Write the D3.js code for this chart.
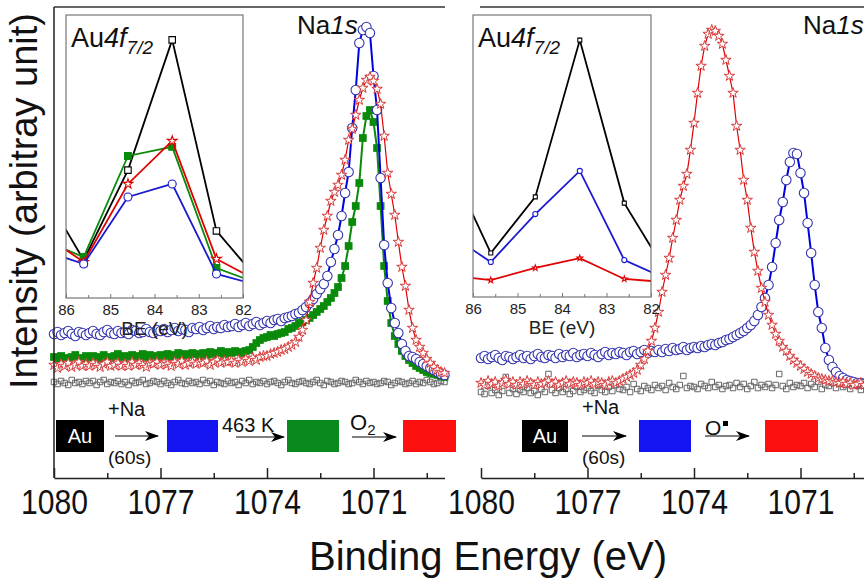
<!DOCTYPE html>
<html>
<head>
<meta charset="utf-8">
<script src="https://cdn.jsdelivr.net/npm/d3@7/dist/d3.min.js"></script>
<style>
body { margin: 0; background: #fff; }
svg { display: block; font-family: "Liberation Sans", Arial, Helvetica, sans-serif; }
</style>
</head>
<body>
<svg class="Na1s" width="864" height="580"></svg>
<script>
// binding energy grid of the Na1s scans (eV), 0.1 eV step from 1080 down to 1069
const energies = d3.range(111).map(i => +(1080 - i * 0.1).toFixed(1));
const energyTicks = [1080, 1077, 1074, 1071];
const energyMinorTicks = [1078.5, 1075.5, 1072.5, 1069.5];

// left panel (Au, +Na 60 s, 463 K, O2) - intensity in arbitrary units
const leftAu = [
    96,94,97,95,93,98,95,96,94,97,
    95,97,93,96,98,94,96,95,97,94,
    96,93,97,95,96,98,94,95,97,96,
    94,97,95,93,96,98,95,94,97,95,
    96,94,98,95,97,93,96,95,94,97,
    95,96,93,97,95,98,94,96,95,97,
    94,96,97,95,93,96,98,95,94,96,
    97,95,94,96,98,95,93,97,96,94,
    95,97,96,94,95,98,96,94,97,95,
    96,94,95,97,96,93,95,97,96,94,
    95,97,94,96,95,98,96,94,95,97,96
];
const leftNa = [
    144,146,143,145,147,144,142,146,145,143,
    145,147,144,143,146,148,145,144,147,145,
    146,144,148,147,145,146,149,146,145,148,
    147,149,146,148,150,147,149,148,146,150,
    149,151,148,150,152,149,151,150,153,151,
    152,154,151,153,155,152,154,156,153,155,
    157,155,158,159,157,160,161,162,164,165,
    168,171,175,179,184,189,194,202,216,229,
    243,262,285,306,350,388,435,448,451,445,
    402,368,300,233,195,170,155,145,134,127,
    122,121,119,116,114,112,110,108,106,104,103
];
const leftAnneal = [
    121,119,122,120,118,121,123,120,119,122,
    120,122,121,119,123,121,120,122,124,121,
    122,120,123,121,122,124,121,123,122,120,
    123,122,124,121,123,125,122,124,123,125,
    124,122,125,123,126,124,125,127,124,126,
    125,127,126,125,127,128,131,135,138,140,
    141,143,142,144,145,146,149,150,152,155,
    156,158,160,163,166,169,172,176,180,185,
    191,200,212,232,256,272,295,340,362,368,
    356,330,272,212,177,155,142,134,127,122,
    118,115,112,110,108,106,105,104,103,102,101
];
const leftO2 = [
    113,110,114,112,115,111,113,116,112,114,
    112,115,113,111,114,116,112,113,115,112,
    114,112,116,113,115,113,111,115,114,116,
    113,115,114,112,116,114,117,113,115,116,
    114,116,115,117,113,116,118,115,117,116,
    117,115,118,116,119,117,120,118,121,122,
    122,124,125,126,128,129,131,133,136,141,
    148,158,176,195,210,230,248,262,277,286,
    293,303,318,338,349,363,378,390,398,401,
    397,389,374,342,305,284,263,236,211,192,
    168,150,138,131,125,119,115,111,108,106,105
];

// right panel (Au, +Na 60 s, O radical)
const rightAu = [
    86,84,92,85,88,83,87,101,85,89,
    84,88,86,90,85,87,83,89,86,104,
    88,85,90,86,89,84,87,91,86,88,
    90,87,85,92,88,86,91,87,93,89,
    88,91,86,94,89,87,92,90,88,93,
    90,92,88,95,91,89,93,102,90,92,
    91,89,94,92,90,96,91,93,89,92,
    93,90,95,91,94,89,92,96,90,93,
    91,94,90,93,104,92,89,95,91,93,
    92,95,90,94,91,96,89,93,92,95,
    90,94,91,93,89,95,92,88,94,91,93
];
const rightNa = [
    120,122,119,121,123,120,118,122,121,119,
    121,123,120,122,119,122,124,121,120,123,
    122,120,124,121,123,122,125,121,123,124,
    122,125,123,121,124,126,123,125,124,126,
    125,123,126,127,124,126,128,125,127,126,
    128,126,129,127,130,128,129,131,128,130,
    131,130,132,131,133,134,133,135,136,138,
    139,141,143,145,147,150,153,157,163,171,
    180,193,211,235,258,276,298,316,325,324,
    305,285,255,225,193,166,150,130,118,111,
    106,102,100,98,97,96,95,95,94,94,94
];
const rightO = [
    95,93,97,94,96,92,95,98,94,96,
    93,96,94,97,95,93,96,94,95,97,
    94,96,93,95,97,94,96,95,93,96,
    95,97,94,96,95,93,96,97,95,97,
    99,101,103,105,108,113,119,127,137,150,
    166,186,203,220,240,258,278,292,304,328,
    355,385,412,432,444,448,447,442,434,418,
    402,385,352,328,298,278,250,226,207,190,
    176,163,153,144,137,131,127,122,118,115,
    112,109,106,104,102,100,99,98,97,97,
    96,95,96,94,95,93,94,95,93,94,93
];

// Au4f7/2 insets (BE in eV, intensity a.u.)
const insetEnergies = [86.6, 85.6, 84.6, 83.6, 82.6, 81.6];
const insetTicks = [86, 85, 84, 83, 82];
const insetMinorTicks = [85.5, 84.5, 83.5, 82.5];
const leftInsetAu = [3.99, 1.34, 4.52, 9.12, 2.37, 0.54];
const leftInsetNa = [1.73, 1.20, 3.57, 4.03, 0.85, 0.43];
const leftInsetAnneal = [2.08, 1.45, 5.02, 5.34, 1.06, 0.48];
const leftInsetO2 = [2.35, 1.27, 4.03, 5.55, 1.38, 0.55];
const rightInsetAu = [4.93, 1.56, 3.55, 9.11, 3.33, 0.73];
const rightInsetNa = [2.31, 1.24, 2.94, 4.47, 1.31, 0.61];
const rightInsetO = [0.78, 0.60, 1.03, 1.38, 0.64, 0.52];

const svg = d3.select('.Na1s');
const axisY = 478;

const defs = svg.append('defs');
defs.append('marker')
    .attr('id', 'arrowHead')
    .attr('viewBox', '0 0 14 10')
    .attr('refX', 13)
    .attr('refY', 5)
    .attr('markerWidth', 14)
    .attr('markerHeight', 10)
    .attr('markerUnits', 'userSpaceOnUse')
    .attr('orient', 'auto')
    .append('path')
    .attr('d', 'M0,0 L14,5 L0,10 L4,5 Z')
    .attr('fill', '#000');

const yScale = d3.scaleLinear()
    .domain([0, 471])
    .range([axisY, 7]);

const styles = {
    au: { symbol: d3.symbolSquare, size: 30, fill: 'none', stroke: '#666', strokeWidth: 1 },
    na: { symbol: d3.symbolCircle, size: 70, fill: '#fff', stroke: '#3535b0', strokeWidth: 1.1, line: '#0000e0', lineWidth: 2 },
    anneal: { symbol: d3.symbolSquare, size: 60, fill: '#0a8a0a', stroke: 'none', strokeWidth: 0, line: '#0a8a0a', lineWidth: 2 },
    o2: { symbol: d3.symbolStar, size: 34, fill: '#fff', stroke: '#d83c3c', strokeWidth: 1, line: '#e00000', lineWidth: 1.2 }
};

function drawSpectrum(g, xScale, values, style)
{
    if (style.line) {
        g.append('path')
            .datum(values)
            .attr('fill', 'none')
            .attr('stroke', style.line)
            .attr('stroke-width', style.lineWidth)
            .attr('d', d3.line()
                .x((d, i) => xScale(energies[i]))
                .y(d => yScale(d)));
    }
    g.selectAll(null)
        .data(values)
        .enter()
        .append('path')
        .attr('transform', (d, i) => `translate(${xScale(energies[i])}, ${yScale(d)})`)
        .attr('d', d3.symbol().type(style.symbol).size(style.size))
        .attr('fill', style.fill)
        .attr('stroke', style.stroke)
        .attr('stroke-width', style.strokeWidth);
}

function drawEnergyAxis(xScale)
{
    const axis = svg.append('g')
        .attr('class', 'x-axis')
        .attr('transform', `translate(0, ${axisY})`)
        .call(d3.axisBottom(xScale)
            .tickValues(energyTicks)
            .tickSize(-10)
            .tickSizeOuter(0)
            .tickPadding(11)
            .tickFormat(d3.format('d')));
    axis.selectAll('path, line')
        .attr('stroke', '#222')
        .attr('stroke-width', 1.5);
    axis.selectAll('text')
        .attr('fill', '#111')
        .attr('font-size', 35)
        .attr('font-family', '"Liberation Sans", Arial, sans-serif')
        .attr('transform', 'scale(0.86, 1)');

    const minor = svg.append('g')
        .attr('transform', `translate(0, ${axisY})`)
        .call(d3.axisBottom(xScale)
            .tickValues(energyMinorTicks)
            .tickSize(-5)
            .tickFormat(''));
    minor.select('.domain').remove();
    minor.selectAll('line')
        .attr('stroke', '#222')
        .attr('stroke-width', 1.5);
}

function drawInset(box, series)
{
    const x = d3.scaleLinear().domain([86, 82]).range([box.x0, box.x1]);
    const y = d3.scaleLinear().domain([0, 10]).range([box.y1, box.y0]);
    const g = svg.append('g').attr('class', 'inset');

    g.append('rect')
        .attr('x', box.x0)
        .attr('y', box.y0)
        .attr('width', box.x1 - box.x0)
        .attr('height', box.y1 - box.y0)
        .attr('fill', '#fff');

    defs.append('clipPath')
        .attr('id', box.id)
        .append('rect')
        .attr('x', box.x0)
        .attr('y', box.y0)
        .attr('width', box.x1 - box.x0)
        .attr('height', box.y1 - box.y0);

    const plot = g.append('g').attr('clip-path', `url(#${box.id})`);
    for (const s of series) {
        plot.append('path')
            .datum(s.values)
            .attr('fill', 'none')
            .attr('stroke', s.color)
            .attr('stroke-width', 1.8)
            .attr('d', d3.line()
                .x((d, i) => x(insetEnergies[i]))
                .y(d => y(d)));
        plot.selectAll(null)
            .data(s.values)
            .enter()
            .append('path')
            .attr('transform', (d, i) => `translate(${x(insetEnergies[i])}, ${y(d)})`)
            .attr('d', d3.symbol().type(s.symbol).size(s.size))
            .attr('fill', s.fill)
            .attr('stroke', s.stroke)
            .attr('stroke-width', 1.1);
    }

    g.append('rect')
        .attr('x', box.x0)
        .attr('y', box.y0)
        .attr('width', box.x1 - box.x0)
        .attr('height', box.y1 - box.y0)
        .attr('fill', 'none')
        .attr('stroke', '#777')
        .attr('stroke-width', 1.2);

    const axis = g.append('g')
        .attr('transform', `translate(0, ${box.y1})`)
        .call(d3.axisBottom(x)
            .tickValues(insetTicks)
            .tickSize(-4)
            .tickSizeOuter(0)
            .tickPadding(6)
            .tickFormat(d3.format('d')));
    axis.select('.domain').remove();
    axis.selectAll('line').attr('stroke', '#777');
    axis.selectAll('text')
        .attr('fill', '#222')
        .attr('font-size', 15)
        .attr('font-family', '"Liberation Sans", Arial, sans-serif');
    const minor = g.append('g')
        .attr('transform', `translate(0, ${box.y1})`)
        .call(d3.axisBottom(x)
            .tickValues(insetMinorTicks)
            .tickSize(-3)
            .tickFormat(''));
    minor.select('.domain').remove();
    minor.selectAll('line').attr('stroke', '#777');

    g.append('text')
        .attr('x', (box.x0 + box.x1) / 2)
        .attr('y', box.y1 + 37)
        .attr('text-anchor', 'middle')
        .attr('font-size', 19)
        .attr('fill', '#222')
        .text('BE (eV)');

    const title = g.append('text')
        .attr('x', box.x0 + 5)
        .attr('y', box.y0 + 32)
        .attr('font-size', 27)
        .attr('fill', '#111');
    title.append('tspan').text('Au');
    title.append('tspan').attr('font-style', 'italic').text('4f');
    title.append('tspan')
        .attr('font-style', 'italic')
        .attr('font-size', 19)
        .attr('dy', 7)
        .text('7/2');
}

function na1sLabel(x)
{
    const t = svg.append('text')
        .attr('x', x)
        .attr('y', 34)
        .attr('font-size', 26)
        .attr('fill', '#111');
    t.append('tspan').text('Na');
    t.append('tspan').attr('font-style', 'italic').text('1s');
}

function schemeBox(x, w, color, label)
{
    svg.append('rect')
        .attr('x', x)
        .attr('y', 420)
        .attr('width', w)
        .attr('height', 32)
        .attr('fill', color);
    if (label) {
        svg.append('text')
            .attr('x', x + w / 2)
            .attr('y', 443)
            .attr('text-anchor', 'middle')
            .attr('font-size', 20)
            .attr('fill', '#fff')
            .text(label);
    }
}

function schemeArrow(x1, x2, y)
{
    svg.append('line')
        .attr('x1', x1)
        .attr('x2', x2)
        .attr('y1', y)
        .attr('y2', y)
        .attr('stroke', '#000')
        .attr('stroke-width', 1)
        .attr('marker-end', 'url(#arrowHead)');
}

function schemeText(x, y, text, size)
{
    return svg.append('text')
        .attr('x', x)
        .attr('y', y)
        .attr('font-size', size)
        .attr('fill', '#111')
        .text(text);
}

// ---------- left panel ----------
const xLeft = d3.scaleLinear().domain([1080, 1069]).range([54, 444.5]);
const leftPlot = svg.append('g').attr('class', 'left-spectra');
drawSpectrum(leftPlot, xLeft, leftAu, styles.au);
drawSpectrum(leftPlot, xLeft, leftAnneal, styles.anneal);
drawSpectrum(leftPlot, xLeft, leftNa, styles.na);
drawSpectrum(leftPlot, xLeft, leftO2, styles.o2);

// ---------- right panel ----------
const xRight = d3.scaleLinear().domain([1080, 1069]).range([481, 871.5]);
const rightPlot = svg.append('g').attr('class', 'right-spectra');
drawSpectrum(rightPlot, xRight, rightAu, styles.au);
drawSpectrum(rightPlot, xRight, rightNa, styles.na);
drawSpectrum(rightPlot, xRight, rightO, styles.o2);

// frames
svg.append('line')
    .attr('x1', 54).attr('x2', 54).attr('y1', 7).attr('y2', axisY)
    .attr('stroke', '#222').attr('stroke-width', 1.5);
svg.append('line')
    .attr('x1', 54).attr('x2', 445).attr('y1', 7).attr('y2', 7)
    .attr('stroke', '#333').attr('stroke-width', 1.5);
svg.append('line')
    .attr('x1', 480).attr('x2', 864).attr('y1', 7).attr('y2', 7)
    .attr('stroke', '#333').attr('stroke-width', 1.5);
drawEnergyAxis(xLeft);
drawEnergyAxis(xRight);

drawInset({ id: 'clipLeft', x0: 66, x1: 243, y0: 15, y1: 298 }, [
    { values: leftInsetAu, color: '#000', symbol: d3.symbolSquare, size: 42, fill: '#fff', stroke: '#000' },
    { values: leftInsetAnneal, color: '#0a8a0a', symbol: d3.symbolSquare, size: 46, fill: '#0a8a0a', stroke: '#0a8a0a' },
    { values: leftInsetO2, color: '#e00000', symbol: d3.symbolStar, size: 30, fill: '#fff', stroke: '#e00000' },
    { values: leftInsetNa, color: '#1a1ad0', symbol: d3.symbolCircle, size: 50, fill: '#fff', stroke: '#1a1ad0' }
]);
drawInset({ id: 'clipRight', x0: 473, x1: 651, y0: 15, y1: 297 }, [
    { values: rightInsetAu, color: '#000', symbol: d3.symbolSquare, size: 16, fill: '#fff', stroke: '#000' },
    { values: rightInsetNa, color: '#1a1ad0', symbol: d3.symbolCircle, size: 20, fill: '#fff', stroke: '#1a1ad0' },
    { values: rightInsetO, color: '#e00000', symbol: d3.symbolStar, size: 10, fill: '#fff', stroke: '#e00000' }
]);

na1sLabel(297);
na1sLabel(803);

// ---------- treatment schemes ----------
schemeBox(56, 48, '#000', 'Au');
schemeText(108, 416, '+Na', 20);
schemeArrow(115, 158, 436);
schemeText(108, 464, '(60s)', 19);
schemeBox(167, 51, '#1414f2');
schemeText(222, 432, '463 K', 20);
schemeArrow(236, 284, 437);
schemeBox(287, 52, '#0a8a1e');
const o2 = schemeText(350, 430, 'O', 22);
o2.append('tspan').attr('font-size', 15).attr('dy', 5).text('2');
schemeArrow(352, 396, 437);
schemeBox(403, 53, '#ff1010');

schemeBox(522, 46, '#000', 'Au');
schemeText(582, 414, '+Na', 20);
schemeArrow(582, 626, 436);
schemeText(582, 464, '(60s)', 19);
schemeBox(639, 52, '#1414f2');
schemeText(705, 435, 'O', 21);
svg.append('rect')
    .attr('x', 723).attr('y', 421).attr('width', 5).attr('height', 5)
    .attr('fill', '#000');
schemeArrow(705, 749, 436);
schemeBox(765, 53, '#ff1010');

// ---------- axis titles ----------
svg.append('text')
    .attr('transform', 'translate(37, 201) rotate(-90)')
    .attr('text-anchor', 'middle')
    .attr('font-size', 38)
    .attr('fill', '#111')
    .text('Intensity (arbitray unit)');

svg.append('text')
    .attr('x', 488)
    .attr('y', 570)
    .attr('text-anchor', 'middle')
    .attr('font-size', 40)
    .attr('fill', '#111')
    .text('Binding Energy (eV)');
</script>
</body>
</html>
